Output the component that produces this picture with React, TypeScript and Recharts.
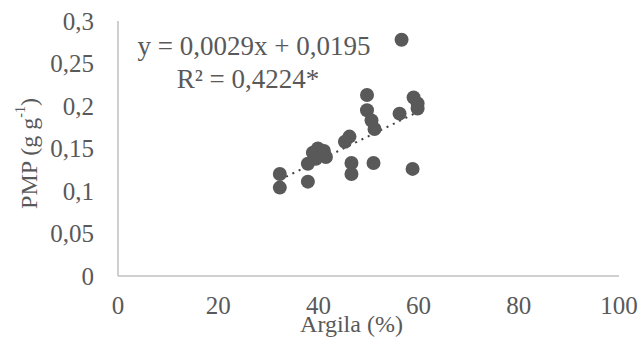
import { ReferenceLine, Scatter, ScatterChart, XAxis, YAxis } from "recharts";

// Argila (%) vs PMP (g g-1)
const argila = [
  56.6, 49.7, 49.7, 50.6, 51.2, 59.0, 59.8, 59.8, 56.2, 58.8, 51.0, 46.6,
  46.6, 46.2, 45.3, 37.9, 37.9, 32.3, 32.3, 38.9, 39.9, 41.1, 41.5, 39.5,
];
const pmp = [
  0.278, 0.213, 0.195, 0.183, 0.173, 0.21, 0.203, 0.197, 0.191, 0.126, 0.133, 0.133,
  0.12, 0.164, 0.158, 0.132, 0.111, 0.12, 0.104, 0.145, 0.15, 0.147, 0.14, 0.138,
];
const xTicks = [0, 20, 40, 60, 80, 100];
const yTicks = [0, 0.05, 0.1, 0.15, 0.2, 0.25, 0.3];
const slope = 0.0029;
const intercept = 0.0195;

const points = argila.map((x, i) => ({ x, y: pmp[i] }));
const xMin = Math.min(...argila);
const xMax = Math.max(...argila);

const grey = "#595959";
const font = "Liberation Serif";
const fmt = (v: number) => String(v).replace(".", ",");

const Dot = (p: any) => <circle cx={p.cx} cy={p.cy} r={7} fill={grey} />;

const YLabel = (p: any) => {
  const vb = p.viewBox;
  const cx = 29;
  const cy = vb.y + vb.height / 2 + 5;
  return (
    <text
      x={cx}
      y={cy}
      transform={`rotate(-90, ${cx}, ${cy})`}
      textAnchor="middle"
      dominantBaseline="central"
      fill={grey}
      fontFamily={font}
      fontSize={24}
    >
      PMP (g g<tspan dy={-9} fontSize={14}>-1</tspan>
      <tspan dy={9}>)</tspan>
    </text>
  );
};

const XLabel = (p: any) => {
  const vb = p.viewBox;
  return (
    <text
      x={vb.x + vb.width / 2 - 17}
      y={vb.y + 48}
      textAnchor="middle"
      dominantBaseline="central"
      fill={grey}
      fontFamily={font}
      fontSize={24}
    >
      Argila (%)
    </text>
  );
};

const tickStyle = { fill: grey, fontSize: 25, fontFamily: font };

export default function App() {
  return (
    <div style={{ position: "absolute", left: 0, top: 0, background: "#fff" }}>
      <ScatterChart width={639} height={345} margin={{ top: 21, right: 20, bottom: 0, left: 0 }}>
        <XAxis
          type="number"
          dataKey="x"
          domain={[0, 100]}
          ticks={xTicks}
          tickLine={false}
          tickSize={0}
          tickMargin={20}
          axisLine={{ stroke: "#bfbfbf", strokeWidth: 1.5 }}
          tick={tickStyle}
          height={69}
          label={<XLabel />}
        />
        <YAxis
          type="number"
          dataKey="y"
          domain={[0, 0.3]}
          ticks={yTicks}
          tickFormatter={fmt}
          tickLine={false}
          tickSize={0}
          tickMargin={24}
          axisLine={{ stroke: "#bfbfbf", strokeWidth: 1.5 }}
          tick={tickStyle}
          width={118}
          label={<YLabel />}
        />
        <ReferenceLine
          segment={[
            { x: xMin, y: slope * xMin + intercept },
            { x: xMax, y: slope * xMax + intercept },
          ]}
          stroke="#404040"
          strokeWidth={2}
          strokeDasharray="2 5"
        />
        <Scatter data={points} fill={grey} shape={Dot} isAnimationActive={false} />
        <text x={254} y={46} textAnchor="middle" dominantBaseline="central" fill={grey} fontFamily={font} fontSize={27}>
          y = 0,0029x + 0,0195
        </text>
        <text x={248} y={79} textAnchor="middle" dominantBaseline="central" fill={grey} fontFamily={font} fontSize={27}>
          R² = 0,4224*
        </text>
      </ScatterChart>
    </div>
  );
}
